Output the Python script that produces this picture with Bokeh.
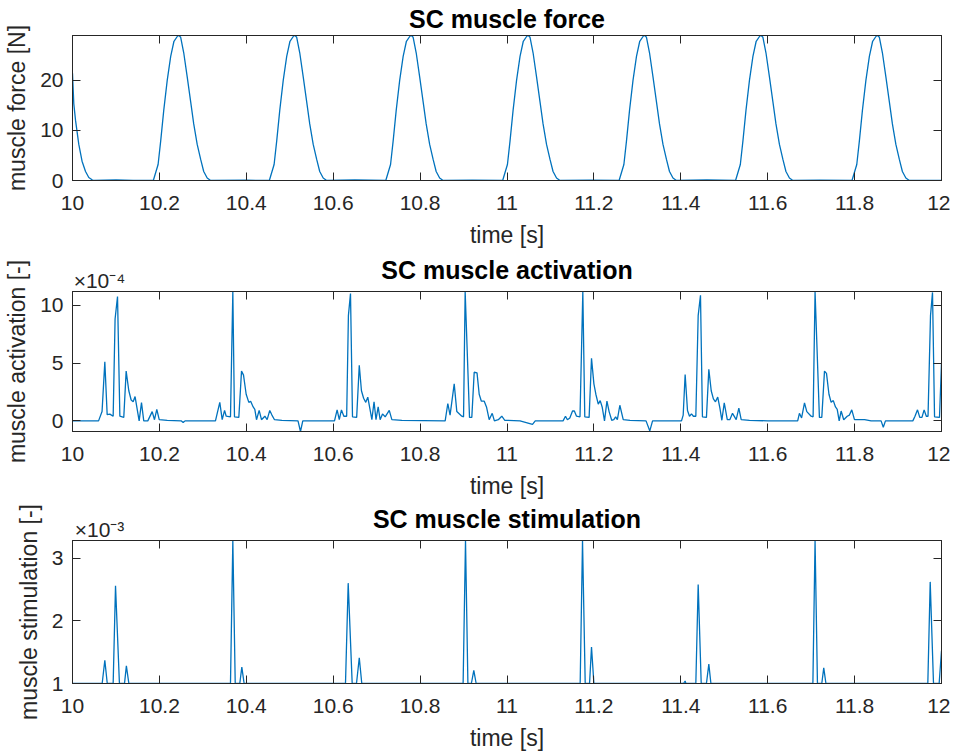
from bokeh.plotting import figure
from bokeh.layouts import column
from bokeh.models import Range1d, FixedTicker, LinearAxis, ColumnDataSource
from bokeh.embed import file_html
from bokeh.resources import INLINE

# ---------------- data ----------------
time_ticks = [10.0, 10.2, 10.4, 10.6, 10.8, 11.0, 11.2, 11.4, 11.6, 11.8, 12.0]
time_tick_labels = ["10", "10.2", "10.4", "10.6", "10.8", "11", "11.2", "11.4", "11.6", "11.8", "12"]

force_ticks = [0, 10, 20]
activation_ticks = [0, 5, 10]          # in units of 1e-4
stimulation_ticks = [1, 2, 3]          # in units of 1e-3

# muscle force [N]
force_t = [
    10.000, 10.003, 10.007, 10.0145, 10.022, 10.030, 10.0375, 10.045, 10.049, 10.100, 10.140,
    10.186, 10.197, 10.203, 10.210, 10.218, 10.226, 10.2335, 10.2415, 10.245, 10.249, 10.256, 10.264, 10.272, 10.279, 10.287, 10.295, 10.302, 10.310, 10.318,
    10.400,
    10.453, 10.464, 10.470, 10.477, 10.485, 10.493, 10.5005, 10.5085, 10.512, 10.516, 10.523, 10.531, 10.539, 10.546, 10.554, 10.562, 10.569, 10.577, 10.585,
    10.650,
    10.721, 10.732, 10.738, 10.745, 10.753, 10.761, 10.7685, 10.7765, 10.780, 10.784, 10.791, 10.799, 10.807, 10.814, 10.822, 10.830, 10.837, 10.845, 10.853,
    10.920,
    10.990, 11.001, 11.007, 11.014, 11.022, 11.030, 11.0375, 11.0455, 11.049, 11.053, 11.060, 11.068, 11.076, 11.083, 11.091, 11.099, 11.106, 11.114, 11.122,
    11.190,
    11.258, 11.269, 11.275, 11.282, 11.290, 11.298, 11.3055, 11.3135, 11.317, 11.321, 11.328, 11.336, 11.344, 11.351, 11.359, 11.367, 11.374, 11.382, 11.390,
    11.460,
    11.526, 11.537, 11.543, 11.550, 11.558, 11.566, 11.5735, 11.5815, 11.585, 11.589, 11.596, 11.604, 11.612, 11.619, 11.627, 11.635, 11.642, 11.650, 11.658,
    11.720,
    11.794, 11.805, 11.811, 11.818, 11.826, 11.834, 11.8415, 11.8495, 11.853, 11.857, 11.864, 11.872, 11.880, 11.887, 11.895, 11.903, 11.910, 11.918, 11.926,
    12.000,
]
force_v = [
    21.4, 15.3, 12.0, 7.2, 3.85, 1.8, 0.6, 0.15, 0.0, 0.1, 0.0,
    0.0, 3.2, 7.9, 14.0, 20.0, 24.8, 27.8, 28.8, 28.95, 28.6, 25.5, 20.7, 15.7, 11.3, 7.2, 4.2, 1.8, 0.5, 0.0,
    0.05,
    0.0, 3.2, 7.9, 14.0, 20.0, 24.8, 27.8, 28.8, 28.95, 28.6, 25.5, 20.7, 15.7, 11.3, 7.2, 4.2, 1.8, 0.5, 0.0,
    0.1,
    0.0, 3.2, 7.9, 14.0, 20.0, 24.8, 27.8, 28.8, 28.95, 28.6, 25.5, 20.7, 15.7, 11.3, 7.2, 4.2, 1.8, 0.5, 0.0,
    0.05,
    0.0, 3.2, 7.9, 14.0, 20.0, 24.8, 27.8, 28.8, 28.95, 28.6, 25.5, 20.7, 15.7, 11.3, 7.2, 4.2, 1.8, 0.5, 0.0,
    0.05,
    0.0, 3.2, 7.9, 14.0, 20.0, 24.8, 27.8, 28.8, 28.95, 28.6, 25.5, 20.7, 15.7, 11.3, 7.2, 4.2, 1.8, 0.5, 0.0,
    0.1,
    0.0, 3.2, 7.9, 14.0, 20.0, 24.8, 27.8, 28.8, 28.95, 28.6, 25.5, 20.7, 15.7, 11.3, 7.2, 4.2, 1.8, 0.5, 0.0,
    0.05,
    0.0, 3.2, 7.9, 14.0, 20.0, 24.8, 27.8, 28.8, 28.95, 28.6, 25.5, 20.7, 15.7, 11.3, 7.2, 4.2, 1.8, 0.5, 0.0,
    0.0,
]

# muscle activation [x1e-4]
activation_t = [
    10.000, 10.060, 10.068, 10.0744, 10.0798, 10.086, 10.0936, 10.098, 10.1036, 10.109, 10.118,
    10.1235, 10.1296, 10.135, 10.1396, 10.144, 10.1534, 10.1588, 10.164, 10.1733, 10.1834, 10.1887,
    10.194, 10.1996, 10.218, 10.250, 10.2547, 10.259, 10.329, 10.339, 10.3445, 10.350, 10.3537,
    10.3636, 10.369, 10.3728, 10.3828, 10.389, 10.3936, 10.3997, 10.4058, 10.410, 10.4158, 10.4196,
    10.4235, 10.4296, 10.435, 10.4427, 10.448, 10.454, 10.459, 10.4649, 10.482, 10.519, 10.5247,
    10.530, 10.603, 10.609, 10.614, 10.619, 10.6245, 10.631, 10.635, 10.6398, 10.6444, 10.654,
    10.660, 10.665, 10.670, 10.675, 10.6796, 10.684, 10.689, 10.694, 10.6985, 10.7035, 10.708,
    10.7135, 10.7196, 10.729, 10.735, 10.758, 10.8577, 10.8638, 10.869, 10.8785, 10.8845, 10.896,
    10.900, 10.9037, 10.9137, 10.919, 10.9245, 10.931, 10.936, 10.941, 10.9476, 10.9528, 10.959,
    10.966, 10.971, 10.980, 10.988, 10.995, 11.030, 11.0587, 11.065, 11.129, 11.1346, 11.139,
    11.1446, 11.1508, 11.155, 11.160, 11.168, 11.1745, 11.179, 11.189, 11.1945, 11.200, 11.2045,
    11.210, 11.2145, 11.219, 11.2244, 11.230, 11.235, 11.241, 11.2458, 11.250, 11.254, 11.2597,
    11.2675, 11.283, 11.320, 11.3287, 11.335, 11.4016, 11.4055, 11.410, 11.4154, 11.420, 11.4246,
    11.429, 11.4346, 11.440, 11.4453, 11.4498, 11.459, 11.4645, 11.470, 11.475, 11.4798, 11.485,
    11.490, 11.4945, 11.500, 11.507, 11.5128, 11.519, 11.5275, 11.5336, 11.539, 11.558, 11.600,
    11.669, 11.673, 11.678, 11.6847, 11.690, 11.700, 11.7045, 11.709, 11.719, 11.7245, 11.7307,
    11.7353, 11.741, 11.746, 11.751, 11.756, 11.760, 11.7645, 11.769, 11.775, 11.783, 11.788,
    11.7935, 11.7997, 11.823, 11.838, 11.861, 11.866, 11.871, 11.934, 11.939, 11.9448, 11.950,
    11.955, 11.960, 11.965, 11.969, 11.9747, 11.9793, 11.984, 11.9954, 12.000,
]
activation_v = [
    0.0, 0.0, 0.8, 5.1, 0.53, 0.58, 0.4, 8.8, 10.75, 0.4, 0.3,
    4.3, 2.6, 1.8, 1.65, 2.1, 0.0, 1.57, 0.0, 0.0, 0.8, 0.1,
    1.0, 0.1, 0.05, 0.0, -0.15, 0.0, 0.0, 1.6, 0.1, 0.9, 0.4,
    0.35, 11.18, 0.35, 0.3, 4.3, 3.95, 2.3, 1.6, 1.7, 1.2, 1.0,
    0.1, 0.9, 0.1, 0.4, 0.1, 0.9, 0.5, 0.1, 0.05, 0.0, -0.92,
    0.0, 0.0, 0.95, 0.1, 0.95, 0.4, 0.4, 9.1, 11.0, 0.35, 0.3,
    4.8, 2.6, 1.95, 1.6, 2.05, 1.15, 0.1, 1.65, 0.1, 1.2, 0.1,
    0.6, 0.35, 0.9, 0.1, 0.05, 0.0, 1.5, 0.5, 3.2, 0.8, 0.4,
    0.35, 11.17, 0.3, 0.3, 4.2, 4.15, 2.3, 1.7, 1.7, 1.2, 0.1,
    0.65, 0.0, 0.1, 0.4, 0.05, 0.0, -0.3, 0.0, 0.0, 0.4, 0.1,
    0.25, 0.85, 0.85, 0.4, 0.35, 11.15, 0.35, 0.3, 5.4, 3.2, 2.3,
    1.45, 1.75, 1.2, 0.0, 1.7, 0.8, 0.05, 0.1, 0.35, 0.1, 1.35,
    0.1, 0.05, 0.0, -0.87, 0.0, 0.0, 0.5, 4.0, 0.9, 0.4, 0.6,
    0.4, 0.4, 9.1, 10.85, 0.35, 0.3, 4.45, 2.6, 1.9, 1.65, 2.05,
    1.1, 0.05, 1.55, 0.1, 0.1, 0.65, 0.1, 1.1, 0.1, 0.05, 0.0,
    0.0, 0.65, 0.25, 1.55, 0.8, 0.4, 0.35, 11.16, 0.3, 0.3, 4.3,
    4.1, 2.3, 1.6, 1.75, 1.2, 1.0, 0.0, 0.85, 0.1, 0.4, 0.5,
    0.95, 0.1, 0.1, 0.0, 0.0, -0.55, 0.0, 0.0, 0.4, 0.95, 0.3,
    0.3, 0.95, 0.4, 0.4, 9.1, 11.1, 0.35, 0.3, 5.0,
]

# muscle stimulation [x1e-3]
stimulation_t = [
    10.000, 10.0683, 10.0744, 10.080, 10.0936, 10.099, 10.108, 10.1197, 10.124, 10.1297,
    10.3636, 10.369, 10.3745, 10.385, 10.3897, 10.395,
    10.6283, 10.6345, 10.6437, 10.6536, 10.660, 10.6658,
    10.899, 10.9045, 10.910, 10.918, 10.9236, 10.929,
    11.1684, 11.1738, 11.180, 11.190, 11.1945, 11.200,
    11.4062, 11.410, 11.4117, 11.4346, 11.440, 11.447, 11.459, 11.4645, 11.4693,
    11.704, 11.709, 11.7145, 11.7245, 11.729, 11.734,
    11.9685, 11.974, 11.9816, 11.9946, 12.000,
]
stimulation_v = [
    1.0, 1.0, 1.37, 1.0, 1.0, 2.56, 1.0, 1.0, 1.28, 1.0,
    1.0, 3.28, 1.0, 1.0, 1.26, 1.0,
    1.0, 2.6, 1.0, 1.0, 1.41, 1.0,
    1.0, 3.28, 1.0, 1.0, 1.21, 1.0,
    1.0, 3.28, 1.0, 1.0, 1.58, 1.0,
    1.0, 1.04, 1.0, 1.0, 2.58, 1.0, 1.0, 1.31, 1.0,
    1.0, 3.28, 1.0, 1.0, 1.25, 1.0,
    1.0, 2.62, 1.0, 1.0, 1.52,
]

# ---------------- styling ----------------
FONT = "Liberation Sans"
LINE_COLOR = "#0072BD"
AX_COLOR = "#262626"
TICK_SIZE = "21px"
LABEL_SIZE = "23px"
TITLE_SIZE = "25px"
WIDTH = 950
FRAME_W = 869          # plot-area width in pixels
EXP_CENTER_PX = 27     # centre of the "x10^n" multiplier, pixels right of the axes' left edge


def make_panel(title, ylabel, t, v, yticks, height, border_top, border_bottom, exponent=None):
    p = figure(width=WIDTH, height=height, output_backend="svg", toolbar_location=None,
               x_range=Range1d(min(t), max(t)), y_range=Range1d(min(v), max(v)),
               min_border_left=72, min_border_right=9, min_border_top=border_top,
               min_border_bottom=border_bottom, background_fill_color="white",
               border_fill_color="white", title=None)
    p.line(x="t", y="v", source=ColumnDataSource(dict(t=t, v=v)),
           line_color=LINE_COLOR, line_width=1.3)

    p.xgrid.visible = False
    p.ygrid.visible = False
    p.outline_line_color = AX_COLOR
    p.outline_line_width = 1

    xt = FixedTicker(ticks=time_ticks)
    yt = FixedTicker(ticks=yticks)
    xa = p.xaxis[0]
    xa.ticker = xt
    xa.major_label_overrides = dict(zip(time_ticks, time_tick_labels))
    xa.axis_label = "time [s]"
    ya = p.yaxis[0]
    ya.ticker = yt
    ya.axis_label = ylabel
    for ax in (xa, ya):
        ax.axis_line_color = AX_COLOR
        ax.major_tick_line_color = AX_COLOR
        ax.major_tick_in = 8
        ax.major_tick_out = 0
        ax.minor_tick_line_color = None
        ax.major_label_text_font = FONT
        ax.major_label_text_font_size = TICK_SIZE
        ax.major_label_text_color = AX_COLOR
        ax.axis_label_text_font = FONT
        ax.axis_label_text_font_size = LABEL_SIZE
        ax.axis_label_text_font_style = "normal"
        ax.axis_label_text_color = AX_COLOR
    xa.major_label_standoff = 15
    xa.axis_label_standoff = 9
    ya.major_label_standoff = 9
    ya.axis_label_standoff = 7

    # mirrored tick marks (box on)
    for loc, tk in (("right", yt), ("above", xt)):
        ax = LinearAxis(ticker=tk, major_label_text_font_size="0px", major_label_standoff=0,
                        axis_line_color=AX_COLOR, major_tick_line_color=AX_COLOR,
                        major_tick_in=8, major_tick_out=0, minor_tick_line_color=None)
        p.add_layout(ax, loc)

    # title line: optional "x10^n" multiplier at the left, bold title centred
    if exponent:
        x0, x1 = min(t), max(t)
        exp_x = x0 + (x1 - x0) * EXP_CENTER_PX / FRAME_W
        ticks, overrides, title_standoff = [exp_x], {exp_x: exponent}, -18
    else:
        ticks, overrides, title_standoff = [], {}, 3
    top = LinearAxis(ticker=FixedTicker(ticks=ticks),
                     major_label_overrides=overrides,
                     axis_line_color=None, major_tick_line_color=None,
                     minor_tick_line_color=None, major_tick_in=0, major_tick_out=0,
                     major_label_standoff=0, major_label_text_font=FONT,
                     major_label_text_font_size=TICK_SIZE,
                     major_label_text_color=AX_COLOR,
                     axis_label=title, axis_label_standoff=title_standoff,
                     axis_label_text_font=FONT, axis_label_text_font_size=TITLE_SIZE,
                     axis_label_text_font_style="bold", axis_label_text_color="black")
    p.add_layout(top, "above")
    return p


p1 = make_panel("SC muscle force", "muscle force [N]", force_t, force_v, force_ticks,
                252, 35, 72)
p2 = make_panel("SC muscle activation", "muscle activation [-]", activation_t, activation_v,
                activation_ticks, 249, 35, 70, exponent="×10⁻⁴")
p3 = make_panel("SC muscle stimulation", "muscle stimulation [-]", stimulation_t, stimulation_v,
                stimulation_ticks, 252, 37, 70, exponent="×10⁻³")

layout = column(p1, p2, p3, spacing=0)
open("out.html", "w").write(file_html(layout, INLINE))
